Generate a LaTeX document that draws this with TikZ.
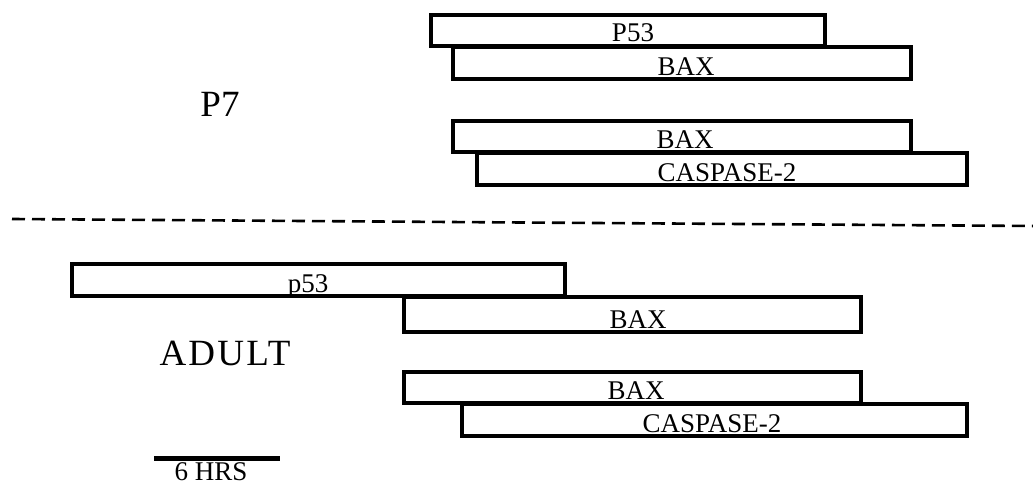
\documentclass[tikz,border=0pt]{standalone}
\usepackage{fontspec}
\setmainfont{Liberation Serif}
\begin{document}
\begin{tikzpicture}[x=1pt,y=-1pt,
  bar/.style={draw=black,fill=white,line width=3.4pt,inner sep=0pt,outer sep=0pt},
  lbl/.style={inner sep=0pt,font=\fontsize{27}{27}\selectfont,anchor=base},
  grp/.style={inner sep=0pt,anchor=base,font=\fontsize{37}{37}\selectfont}]
\useasboundingbox (0,0) rectangle (1033,489);
% P7 group
\node[bar,minimum width=394pt,minimum height=31pt] (p53a) at (628,30.5) {};
\node[bar,minimum width=458pt,minimum height=32pt] (baxa) at (682,63) {};
\node[bar,minimum width=458pt,minimum height=31pt] (baxb) at (682,136.5) {};
\node[bar,minimum width=490pt,minimum height=32pt] (caspa) at (722,169) {};
\node[lbl] (tp53a) at (633,41.5) {P53};
\node[lbl] (tbaxa) at (686,75.5) {BAX};
\node[lbl] (tbaxb) at (685,148.5) {BAX};
\node[lbl] (tcaspa) at (727,181.5) {CASPASE-2};
\node[grp] (p7) at (220,117) {P7};
% divider
\coordinate (dl) at (12,219);
\coordinate (dr) at (1033,226);
\draw[line width=2.6pt,dash pattern=on 13pt off 7pt] (dl) -- (dr);
% Adult group
\node[bar,minimum width=493pt,minimum height=32pt] (p53b) at (318.5,280) {};
\node[bar,minimum width=457pt,minimum height=35pt] (baxc) at (632.5,314.5) {};
\node[bar,minimum width=457pt,minimum height=31pt] (baxd) at (632.5,387.5) {};
\node[bar,minimum width=505pt,minimum height=32pt] (caspb) at (714.5,420) {};
\node[lbl] (tp53b) at (308,292) {p53};
\node[lbl] (tbaxc) at (638,328) {BAX};
\node[lbl] (tbaxd) at (636,399) {BAX};
\node[lbl] (tcaspb) at (712,432) {CASPASE-2};
\node[grp,font=\fontsize{37}{37}\selectfont\addfontfeature{LetterSpace=6}] (adult) at (225,365) {ADULT};
% scale bar
\coordinate (sl) at (154,458);
\coordinate (sr) at (280,458);
\draw[line width=5pt] (sl) -- (sr);
\node[lbl,font=\fontsize{27}{27}\selectfont] (hrs) at (211,480) {6 HRS};
\end{tikzpicture}
\end{document}
